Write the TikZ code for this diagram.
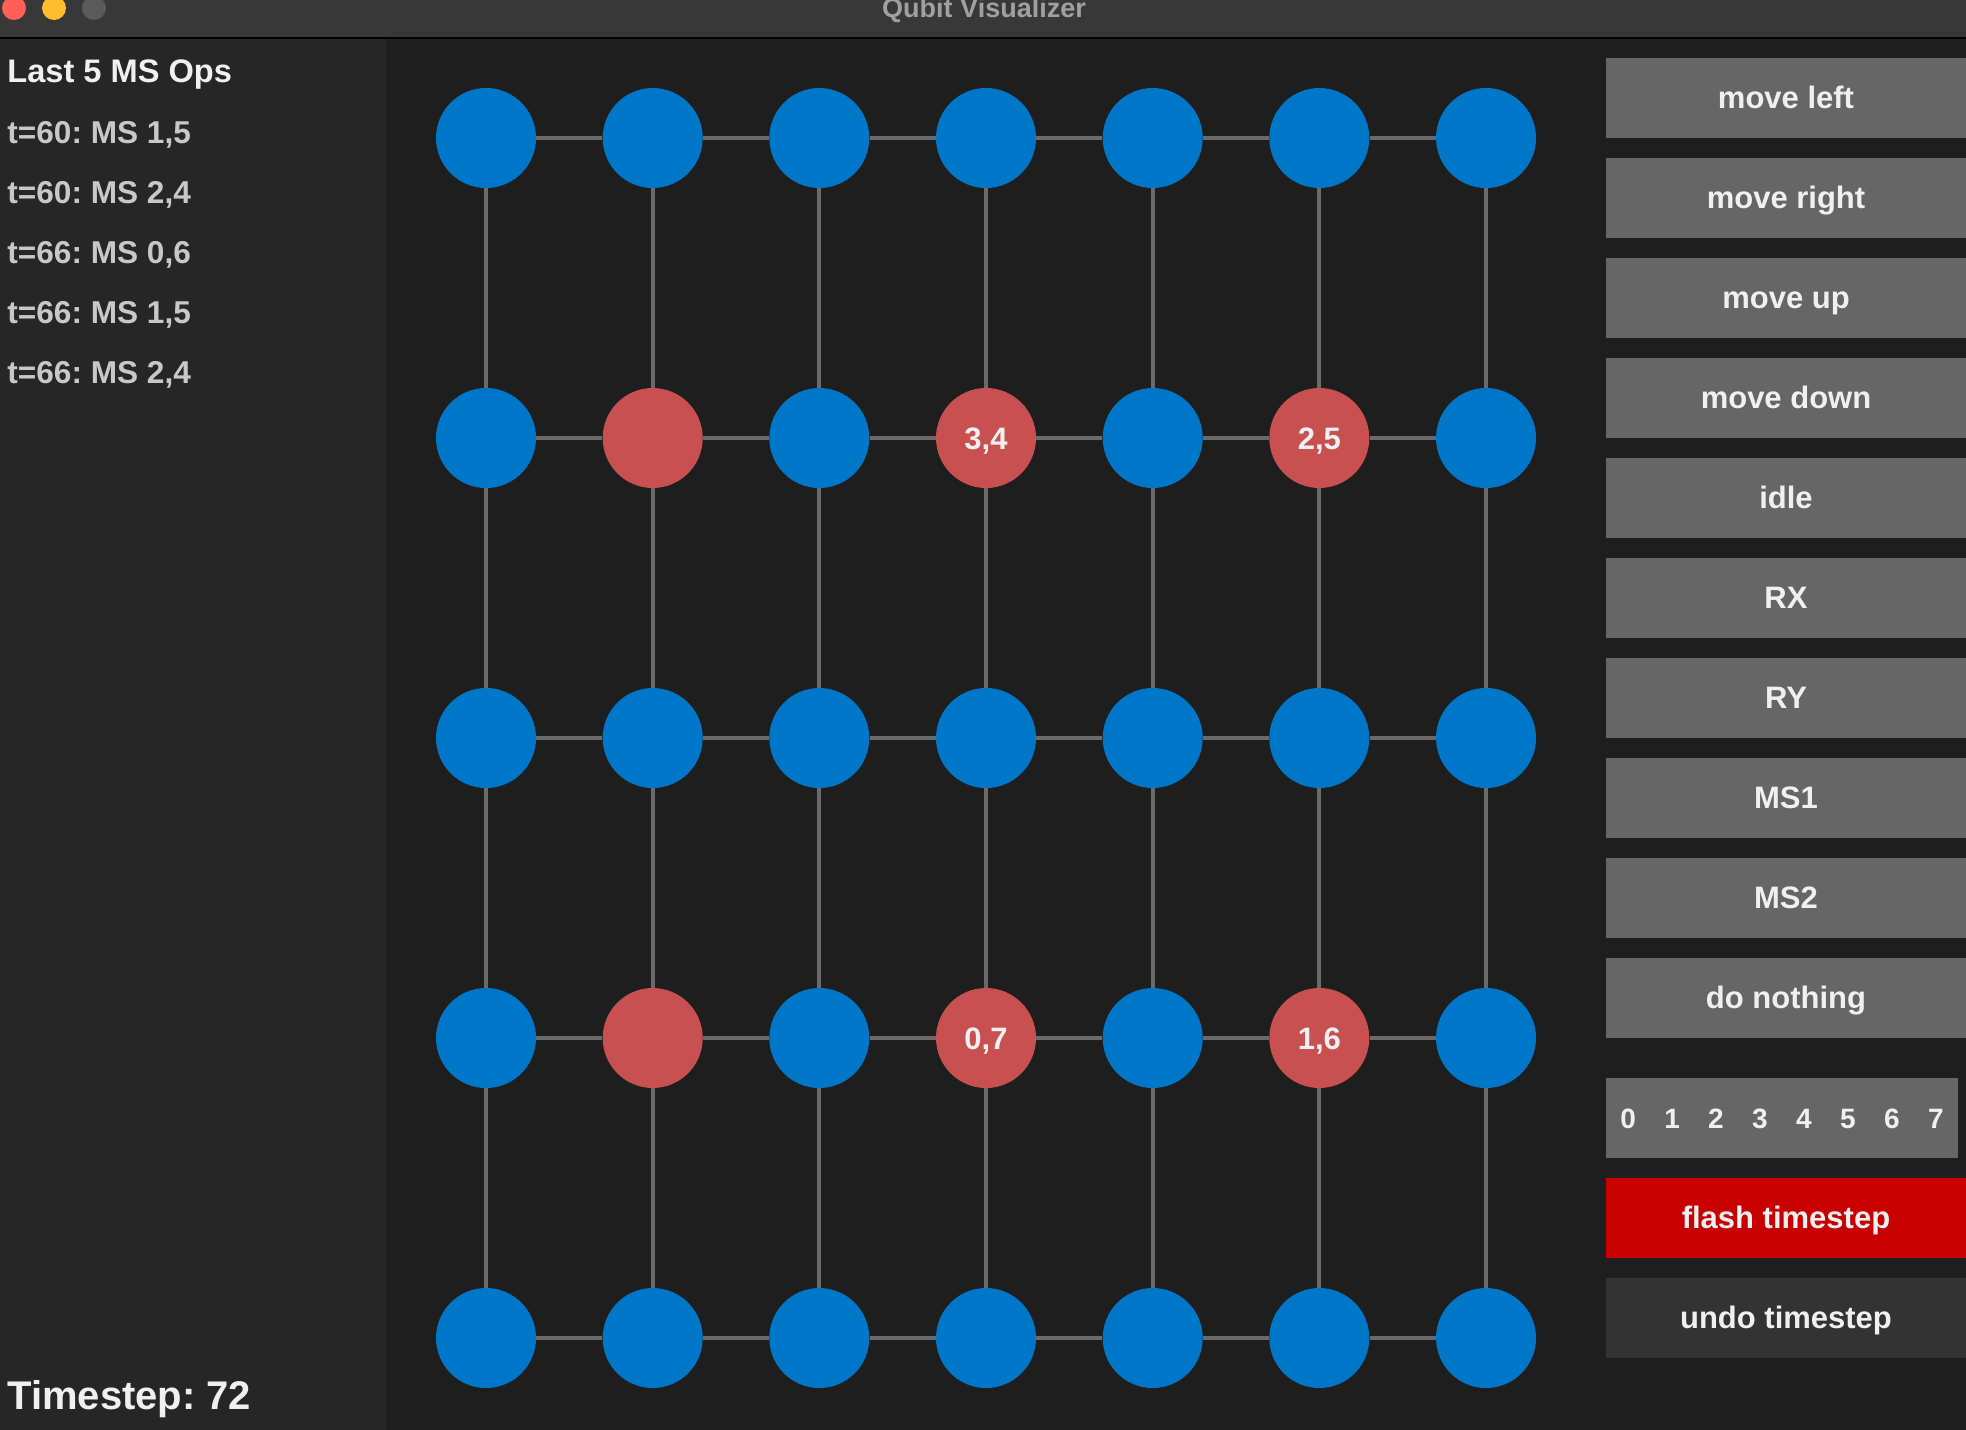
\documentclass[tikz,border=0pt]{standalone}
\usepackage{fontspec}
\setmainfont{Liberation Sans}
\frenchspacing
\usetikzlibrary{positioning}
\definecolor{qblue}{HTML}{0077C8}
\definecolor{qred}{HTML}{C85050}
\definecolor{linkgray}{HTML}{6A6A6A}
\definecolor{btngray}{HTML}{666666}
\definecolor{btndark}{HTML}{333333}
\definecolor{btnred}{HTML}{C80000}
\definecolor{panelbg}{HTML}{262626}
\definecolor{mainbg}{HTML}{1E1E1E}
\definecolor{barbg}{HTML}{383838}
\definecolor{optext}{HTML}{C8C8C8}
\definecolor{titletext}{HTML}{A0A0A0}
\definecolor{btntext}{HTML}{F0F0F0}
\tikzset{
    qubit/.style = {circle, inner sep=0pt, minimum size=50pt, fill=qblue},
    qubitr/.style = {qubit, fill=qred, text=btntext, font=\fontsize{15.5}{18}\bfseries\selectfont, text height=11pt, text depth=0pt},
    link/.style = {line width=2pt, draw=linkgray},
    btn/.style = {rectangle, anchor=north west, inner sep=0pt, outer sep=0pt, minimum width=180pt, minimum height=40pt, fill=btngray, text=btntext, font=\fontsize{15.5}{18}\bfseries\selectfont, text height=10pt, text depth=0pt},
    btnr/.style = {btn, fill=btnred},
    btnd/.style = {btn, fill=btndark},
    optxt/.style = {anchor=base west, inner sep=0pt, text=optext, font=\fontsize{15.8}{18}\bfseries\selectfont},
    light/.style = {circle, inner sep=0pt, minimum size=12pt}
}

\begin{document}
\begin{tikzpicture}[x=0.5pt,y=-0.5pt]
\useasboundingbox (0,0) rectangle (1966,1430);
\fill[mainbg] (0,0) rectangle (1966,1430);
\fill[barbg] (0,0) rectangle (1966,37);
\draw[black, line width=1pt] (0,38) -- (1966,38);
\fill[panelbg] (0,39) rectangle (386,1430);
% window bar
\node[light, fill={rgb,255:red,255;green,95;blue,87}] at (14,8) (lr) {};
\node[light, fill={rgb,255:red,254;green,188;blue,46}] at (54,8) (ly) {};
\node[light, fill={rgb,255:red,90;green,90;blue,90}] at (94,8) (lg) {};
\node[anchor=base, inner sep=0pt, text=titletext, font=\fontsize{13.5}{16}\bfseries\selectfont] at (984,17) (title) {Qubit Visualizer};
% left panel
\node[optxt, text=btntext, font=\fontsize{16.3}{19}\bfseries\selectfont] at (7,82) (ophead) {Last 5 MS Ops};
\node[optxt] at (7,143) (op1) {t=60: MS 1,5};
\node[optxt] at (7,203) (op2) {t=60: MS 2,4};
\node[optxt] at (7,263) (op3) {t=66: MS 0,6};
\node[optxt] at (7,323) (op4) {t=66: MS 1,5};
\node[optxt] at (7,383) (op5) {t=66: MS 2,4};
\node[optxt, text=btntext, font=\fontsize{20}{24}\bfseries\selectfont] at (7,1409) (tstep) {Timestep: 72};
% qubit grid
\node[qubit] at (486,138) (a1) {};
\node[qubit] at (652.7,138) (a2) {};
\node[qubit] at (819.3,138) (a3) {};
\node[qubit] at (986,138) (a4) {};
\node[qubit] at (1152.7,138) (a5) {};
\node[qubit] at (1319.3,138) (a6) {};
\node[qubit] at (1486,138) (a7) {};
%
\node[qubit] at (486,438) (b1) {};
\node[qubitr] at (652.7,438) (b2) {};
\node[qubit] at (819.3,438) (b3) {};
\node[qubitr] at (986,438) (b4) {3,4};
\node[qubit] at (1152.7,438) (b5) {};
\node[qubitr] at (1319.3,438) (b6) {2,5};
\node[qubit] at (1486,438) (b7) {};
%
\node[qubit] at (486,738) (c1) {};
\node[qubit] at (652.7,738) (c2) {};
\node[qubit] at (819.3,738) (c3) {};
\node[qubit] at (986,738) (c4) {};
\node[qubit] at (1152.7,738) (c5) {};
\node[qubit] at (1319.3,738) (c6) {};
\node[qubit] at (1486,738) (c7) {};
%
\node[qubit] at (486,1038) (d1) {};
\node[qubitr] at (652.7,1038) (d2) {};
\node[qubit] at (819.3,1038) (d3) {};
\node[qubitr] at (986,1038) (d4) {0,7};
\node[qubit] at (1152.7,1038) (d5) {};
\node[qubitr] at (1319.3,1038) (d6) {1,6};
\node[qubit] at (1486,1038) (d7) {};
%
\node[qubit] at (486,1338) (e1) {};
\node[qubit] at (652.7,1338) (e2) {};
\node[qubit] at (819.3,1338) (e3) {};
\node[qubit] at (986,1338) (e4) {};
\node[qubit] at (1152.7,1338) (e5) {};
\node[qubit] at (1319.3,1338) (e6) {};
\node[qubit] at (1486,1338) (e7) {};
%
\draw[link] (a1) -- (a2) -- (a3) -- (a4) -- (a5) -- (a6) -- (a7);
\draw[link] (b1) -- (b2) -- (b3) -- (b4) -- (b5) -- (b6) -- (b7);
\draw[link] (c1) -- (c2) -- (c3) -- (c4) -- (c5) -- (c6) -- (c7);
\draw[link] (d1) -- (d2) -- (d3) -- (d4) -- (d5) -- (d6) -- (d7);
\draw[link] (e1) -- (e2) -- (e3) -- (e4) -- (e5) -- (e6) -- (e7);
\draw[link] (a1) -- (b1) -- (c1) -- (d1) -- (e1);
\draw[link] (a2) -- (b2) -- (c2) -- (d2) -- (e2);
\draw[link] (a3) -- (b3) -- (c3) -- (d3) -- (e3);
\draw[link] (a4) -- (b4) -- (c4) -- (d4) -- (e4);
\draw[link] (a5) -- (b5) -- (c5) -- (d5) -- (e5);
\draw[link] (a6) -- (b6) -- (c6) -- (d6) -- (e6);
\draw[link] (a7) -- (b7) -- (c7) -- (d7) -- (e7);
% buttons
\node[btn] at (1606,58) (mleft) {move left};
\node[btn, below=10pt of mleft] (mright) {move right};
\node[btn, below=10pt of mright] (mup) {move up};
\node[btn, below=10pt of mup] (mdown) {move down};
\node[btn, below=10pt of mdown] (idle) {idle};
\node[btn, below=10pt of idle] (rx) {RX};
\node[btn, below=10pt of rx] (ry) {RY};
\node[btn, below=10pt of ry] (msone) {MS1};
\node[btn, below=10pt of msone] (mstwo) {MS2};
\node[btn, below=10pt of mstwo] (nothing) {do nothing};
\node[btn, minimum width=176pt, font=\fontsize{14}{17}\bfseries\selectfont, below right=20pt and 0pt of nothing.south west] (digits) {0\hskip14.2pt 1\hskip14.2pt 2\hskip14.2pt 3\hskip14.2pt 4\hskip14.2pt 5\hskip14.2pt 6\hskip14.2pt 7};
\node[btnr, below right=10pt and 0pt of digits.south west] (flash) {flash timestep};
\node[btnd, below=10pt of flash] (undo) {undo timestep};

\end{tikzpicture}
\end{document}
